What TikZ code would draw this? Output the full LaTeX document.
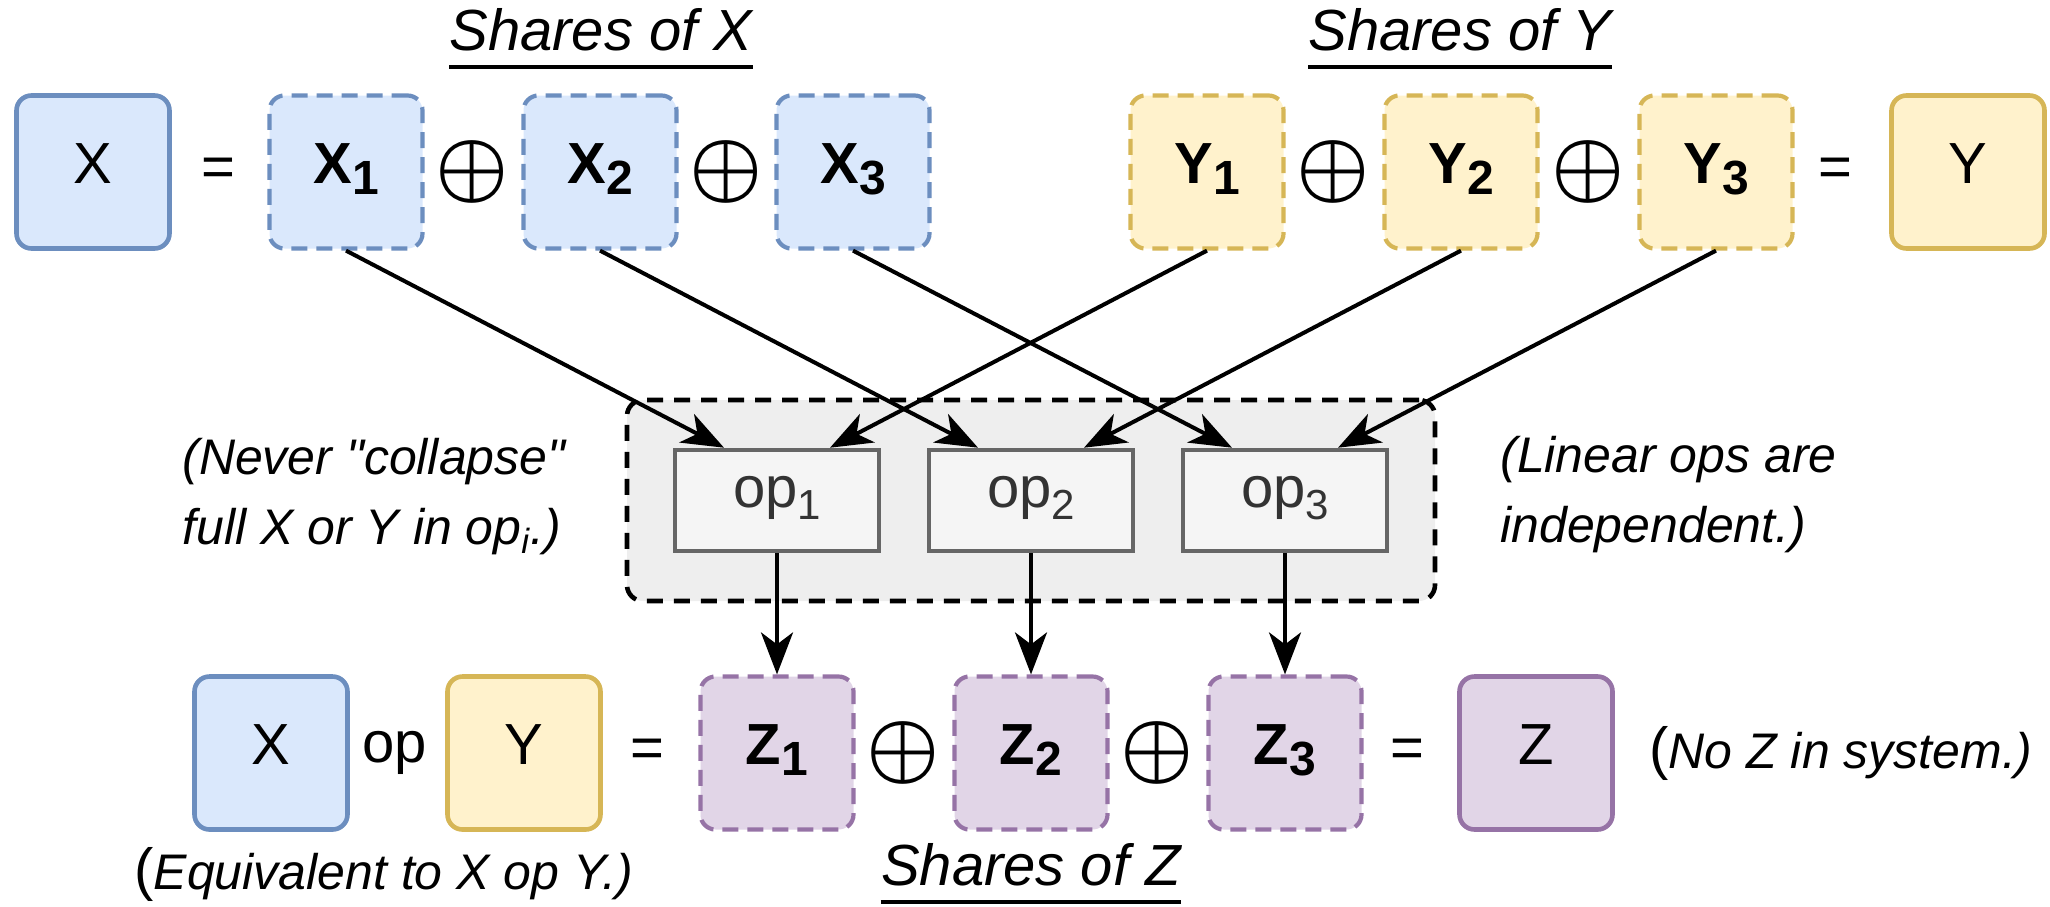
\documentclass[tikz,border=0pt]{standalone}
\usepackage{graphicx}
\usepackage{amsmath}
\usepackage{fontspec}
\setmainfont[Ligatures=TeXOff]{Liberation Sans}
\usetikzlibrary{arrows.meta}
\definecolor{bfill}{HTML}{DAE8FC}\definecolor{bdraw}{HTML}{6C8EBF}
\definecolor{yfill}{HTML}{FFF2CC}\definecolor{ydraw}{HTML}{D6B656}
\definecolor{pfill}{HTML}{E1D5E7}\definecolor{pdraw}{HTML}{9673A6}
\definecolor{gfill}{HTML}{EEEEEE}\definecolor{opfill}{HTML}{F5F5F5}
\definecolor{opdraw}{HTML}{666666}\definecolor{optext}{HTML}{333333}
\newcommand{\sbs}[1]{\raisebox{-5.5pt}{\fontsize{24}{26}\selectfont #1}}
\newcommand{\sbo}[1]{\raisebox{-6pt}{\fontsize{21}{24}\selectfont #1}}
\newcommand{\xorsym}{\scalebox{4.1}{$\boldsymbol{\oplus}$}}
\begin{document}
\begin{tikzpicture}[x=0.5pt,y=-0.5pt,
  sym/.style={font=\fontsize{29}{34}\selectfont, inner sep=0pt},
  oplus/.style={inner sep=0pt},
  whole/.style={draw, rounded corners=7.5pt, minimum width=76.5pt, minimum height=76.5pt, line width=2.3pt, font=\fontsize{29}{34}\selectfont, inner sep=0pt, text height=21pt, text depth=10pt},
  share/.style={whole, line width=2.1pt, dash pattern=on 8pt off 4.5pt, font=\bfseries\fontsize{29}{34}\selectfont},
  xcol/.style={fill=bfill, draw=bdraw},
  ycol/.style={fill=yfill, draw=ydraw},
  zcol/.style={fill=pfill, draw=pdraw},
  opbox/.style={draw=opdraw, fill=opfill, line width=2.3pt, minimum width=102pt, minimum height=50.5pt, text=optext, font=\fontsize{29}{34}\selectfont, inner sep=0pt, text height=15pt, text depth=8pt},
  grp/.style={draw=black, fill=gfill, rounded corners=8pt, line width=2.3pt, dash pattern=on 8pt off 5.5pt, minimum width=404pt, minimum height=100.5pt, inner sep=0pt},
  conn/.style={line width=2pt, -{Stealth[length=21pt,width=16pt,inset=6pt]}},
  note/.style={font=\itshape\fontsize{25}{35}\selectfont, inner sep=0pt, align=left},
  title/.style={font=\itshape\fontsize{29}{34}\selectfont, inner sep=0pt},
  uline/.style={line width=1.8pt},
]
\useasboundingbox (0,0) rectangle (2050,906);

% titles
\node[title, anchor=base] (sx) at (601,50) {Shares of X};
\draw[uline] ([yshift=-8.5pt]sx.base west) -- ([yshift=-8.5pt]sx.base east);
\node[title, anchor=base] (sy) at (1460,50) {Shares of Y};
\draw[uline] ([yshift=-8.5pt]sy.base west) -- ([yshift=-8.5pt]sy.base east);
\node[title, anchor=base] (sz) at (1031,885) {Shares of Z};
\draw[uline] ([yshift=-8.5pt]sz.base west) -- ([yshift=-8.5pt]sz.base east);

% top row
\node[whole,xcol] (X) at (93,172) {X};
\node[sym] (eqx) at (218,172) {=};
\node[share,xcol] (x1) at (346,172) {X\sbs{1}};
\node[oplus] (px1) at (472,172) {\xorsym};
\node[share,xcol] (x2) at (600,172) {X\sbs{2}};
\node[oplus] (px2) at (726,172) {\xorsym};
\node[share,xcol] (x3) at (853,172) {X\sbs{3}};

\node[share,ycol] (y1) at (1207,172) {Y\sbs{1}};
\node[oplus] (py1) at (1333,172) {\xorsym};
\node[share,ycol] (y2) at (1461,172) {Y\sbs{2}};
\node[oplus] (py2) at (1588,172) {\xorsym};
\node[share,ycol] (y3) at (1716,172) {Y\sbs{3}};
\node[sym] (eqy) at (1835,172) {=};
\node[whole,ycol] (Y) at (1968,172) {Y};

% ops group
\node[grp] (grp) at (1031,500.5) {};
\node[opbox] (op1) at (777,500.5) {op\sbo{1}};
\node[opbox] (op2) at (1031,500.5) {op\sbo{2}};
\node[opbox] (op3) at (1285,500.5) {op\sbo{3}};

% bottom row
\node[whole,xcol] (bx) at (271,753) {X};
\node[sym] (bop) at (395,753) {op};
\node[whole,ycol] (by) at (524,753) {Y};
\node[sym] (eqb) at (647,753) {=};
\node[share,zcol] (z1) at (777,753) {Z\sbs{1}};
\node[oplus] (pz1) at (903,753) {\xorsym};
\node[share,zcol] (z2) at (1031,753) {Z\sbs{2}};
\node[oplus] (pz2) at (1157,753) {\xorsym};
\node[share,zcol] (z3) at (1285,753) {Z\sbs{3}};
\node[sym] (eqz) at (1407,753) {=};
\node[whole,zcol] (Z) at (1536,753) {Z};

% connectors
\draw[conn] (x1.south) -- ([xshift=-26.5pt]op1.north);
\draw[conn] (y1.south) -- ([xshift=26.5pt]op1.north);
\draw[conn] (x2.south) -- ([xshift=-26.5pt]op2.north);
\draw[conn] (y2.south) -- ([xshift=26.5pt]op2.north);
\draw[conn] (x3.south) -- ([xshift=-26.5pt]op3.north);
\draw[conn] (y3.south) -- ([xshift=26.5pt]op3.north);
\draw[conn] (op1.south) -- (z1.north);
\draw[conn] (op2.south) -- (z2.north);
\draw[conn] (op3.south) -- (z3.north);

% notes
\node[note, anchor=west] (n1) at (182,497) {(Never "collapse"\\full X or Y in op\textsubscript{i}.)};
\node[note, anchor=west] (n2) at (1500,495) {(Linear ops are\\independent.)};
\node[note, anchor=base west] (n3) at (134,889) {{\upshape\fontsize{29}{34}\selectfont(}Equivalent to X op Y.)};
\node[note, anchor=base west] (n4) at (1649,768) {{\upshape\fontsize{29}{34}\selectfont(}No Z in system.)};
\end{tikzpicture}
\end{document}
